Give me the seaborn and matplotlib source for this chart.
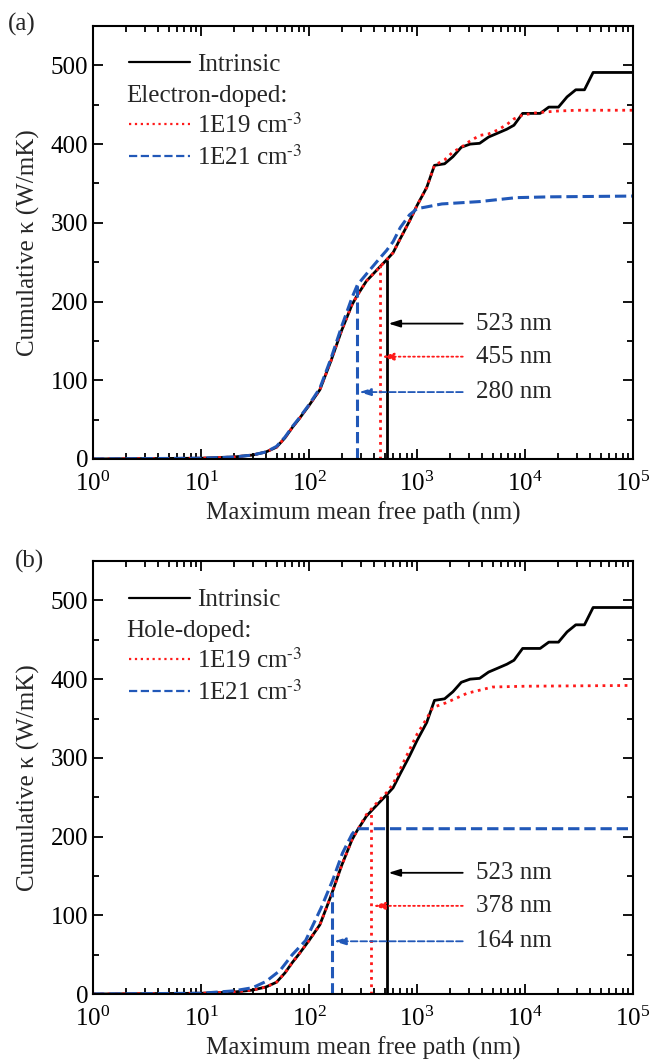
import numpy as np
import pandas as pd
import seaborn as sns
import matplotlib.pyplot as plt
from matplotlib.lines import Line2D
from matplotlib.ticker import LogLocator, MultipleLocator, NullFormatter

# intrinsic curve (same in both panels)
mfp_int = [1, 10, 20, 30, 40, 50, 60, 70, 80, 100, 126, 160, 200, 250, 280, 340, 445, 523,
           600, 700, 850, 1000, 1230, 1450, 1800, 2150, 2570, 3100, 3800, 4600, 5600, 6800,
           7900, 9500, 13800, 16600, 20400, 24500, 29500, 35500, 42700, 100000]
kap_int = [0, 1, 2.5, 5, 9, 15, 27, 40, 50, 68, 88, 125, 163, 196, 208, 226, 243, 253,
           262, 280, 302, 322, 345, 373, 375, 384, 396, 400, 401, 409, 414, 419,
           424, 439, 439, 447, 447, 460, 469, 469, 491, 491]

# electron-doped
mfp_e19 = [1, 10, 20, 30, 40, 50, 60, 70, 80, 100, 126, 160, 200, 250, 280, 340, 445, 523,
           600, 700, 850, 1000, 1230, 1450, 1800, 2150, 2570, 3100, 3800, 4600, 5600, 6800,
           7900, 9500, 13000, 20000, 30000, 100000]
kap_e19 = [0, 1, 2.5, 5, 9, 15, 27, 40, 50, 68, 88, 125, 163, 196, 208, 226, 243, 253,
           262, 280, 302, 322, 345, 373, 380, 390, 396, 404, 411, 413, 418, 425,
           432, 437, 440, 442, 443, 443]
mfp_e21 = [1, 10, 20, 30, 40, 50, 60, 70, 80, 100, 126, 160, 200, 250, 280, 340, 445, 523,
           600, 700, 850, 1000, 1200, 1700, 3800, 8300, 17000, 100000]
kap_e21 = [0, 1, 2.5, 5, 9, 16, 28, 41, 51, 69, 90, 128, 168, 205, 221, 235, 254, 265,
           276, 294, 310, 318, 320, 324, 327, 332, 333, 334]

# hole-doped
mfp_h19 = [1, 10, 20, 30, 40, 50, 60, 70, 80, 100, 126, 160, 200, 250, 280, 340, 445, 523,
           600, 700, 850, 1000, 1230, 1400, 1860, 2900, 5000, 10000, 100000]
kap_h19 = [0, 1, 2.5, 5, 9, 15, 27, 40, 50, 68, 88, 125, 163, 196, 208, 228, 246, 256,
           267, 286, 310, 330, 350, 364, 370, 382, 390, 391, 392]
mfp_h21 = [1, 10, 20, 30, 40, 54, 70, 93, 130, 166, 204, 250, 275, 100000]
kap_h21 = [0, 1, 4, 8, 16, 30, 50, 68, 110, 145, 179, 203, 210, 210]

# marked mean free paths: (value nm, top of vertical line, arrow height)
marks_a = [(523, 253, 172), (455, 246, 130), (280, 221, 85)]
marks_b = [(523, 253, 154), (378, 233, 112), (164, 130, 67)]

RED = "#ff1a1a"
BLUE = "#2158b8"
styles = [("black", "-", 2.0), (RED, ":", 2.0), (BLUE, "--", 2.2)]

sns.set_style("ticks")
plt.rcParams["font.family"] = ["Liberation Serif", "DejaVu Serif"]
plt.rcParams["mathtext.fontset"] = "stix"
FS = 18

fig = plt.figure(figsize=(6.51, 10.62), dpi=100)
ax_a = fig.add_axes([0.1429, 0.5678, 0.8295, 0.4077])
ax_b = fig.add_axes([0.1429, 0.0640, 0.8295, 0.4077])


def draw_panel(ax, curves, marks, heading):
    for (x, y), (c, ls, lw) in zip(curves, styles):
        sns.lineplot(x=x, y=y, ax=ax, color=c, linestyle=ls, linewidth=lw,
                     estimator=None, sort=False)
    ax.set_xscale("log")
    ax.set_xlim(1, 1e5)
    ax.set_ylim(0, 550)
    ax.xaxis.set_major_locator(LogLocator(base=10, numticks=10))
    ax.xaxis.set_minor_locator(LogLocator(base=10, subs=np.arange(2, 10), numticks=20))
    ax.xaxis.set_minor_formatter(NullFormatter())
    ax.yaxis.set_major_locator(MultipleLocator(100))
    ax.yaxis.set_minor_locator(MultipleLocator(50))
    ax.tick_params(which="both", direction="in", top=True, right=True,
                   labelsize=FS, width=1.3, colors="black")
    ax.tick_params(which="major", length=7)
    ax.tick_params(which="minor", length=4)
    ax.tick_params(axis="x", pad=9)
    for s in ax.spines.values():
        s.set_linewidth(1.5)
        s.set_color("black")
    ax.set_xlabel("Maximum mean free path (nm)", fontsize=FS, labelpad=4)
    ax.set_ylabel("Cumulative κ (W/mK)", fontsize=FS, labelpad=8)

    # vertical markers and arrows
    tail_x, text_x = 2650, 3500
    for (mfp, top, ya), (c, ls, lw) in zip(marks, styles):
        ax.vlines(mfp, 0, top, colors=c, linestyles=ls, linewidth=lw)
        ax.annotate("", xy=(mfp * 1.04, ya), xytext=(tail_x, ya),
                    arrowprops=dict(arrowstyle="-|>,head_width=0.22,head_length=0.7",
                                    color=c, linestyle=ls, linewidth=1.3,
                                    shrinkA=0, shrinkB=0))
        ax.text(text_x, ya, f"{mfp} nm", fontsize=FS, va="center", ha="left")

    handles = [Line2D([], [], color=c, linestyle=ls, linewidth=1.6) for c, ls, lw in styles]
    handles.insert(1, Line2D([], [], color="none"))
    labels = ["Intrinsic", " ", r"1E19 cm$^{\text{-}3}$", r"1E21 cm$^{\text{-}3}$"]
    ax.legend(handles, labels, loc="upper left", bbox_to_anchor=(0.067, 0.936),
              frameon=False, fontsize=FS, handlelength=2.45, handletextpad=0.25,
              labelspacing=0.28, borderpad=0, borderaxespad=0)
    ax.text(0.061, 0.838, heading, transform=ax.transAxes, fontsize=FS,
            va="center", ha="left")


draw_panel(ax_a, [(mfp_int, kap_int), (mfp_e19, kap_e19), (mfp_e21, kap_e21)],
           marks_a, "Electron-doped:")
draw_panel(ax_b, [(mfp_int, kap_int), (mfp_h19, kap_h19), (mfp_h21, kap_h21)],
           marks_b, "Hole-doped:")

fig.text(0.034, 0.977, "(a)", fontsize=FS, ha="center", va="center")
fig.text(0.045, 0.471, "(b)", fontsize=FS, ha="center", va="center")

fig.savefig("out.png", dpi=100)
